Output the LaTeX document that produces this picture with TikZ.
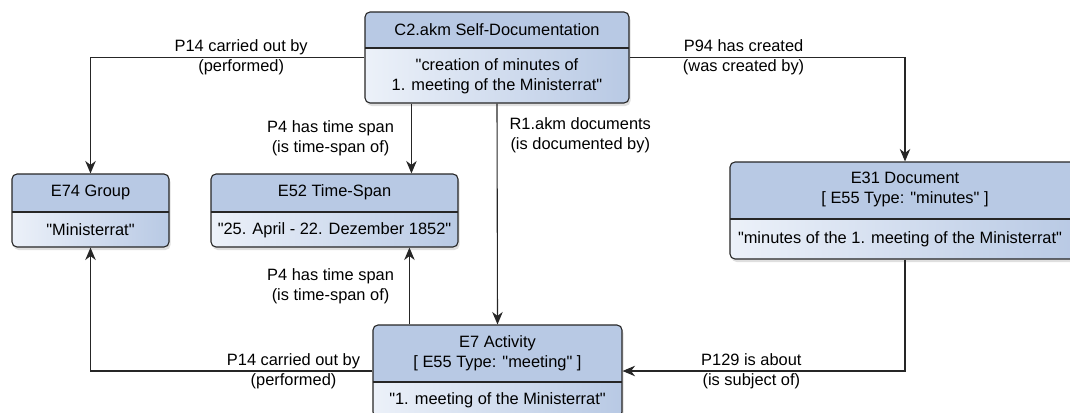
\documentclass[tikz,border=0pt]{standalone}
\usepackage{fontspec}
\setmainfont{Liberation Sans}[Ligatures=TeXOff]
\usepackage{tikz}
\usetikzlibrary{arrows.meta,positioning,calc,shadows}
\definecolor{headblue}{RGB}{184,201,228}
\definecolor{bodylight}{RGB}{236,241,249}
\definecolor{boxline}{RGB}{38,38,38}

\begin{document}
\begin{tikzpicture}[
    x=1pt, y=-1pt,
    font=\fontsize{16.4pt}{20pt}\selectfont,
    entity/.style={draw=boxline, line width=1.1pt, rounded corners=5pt, fill=white,
                inner sep=0pt,
                drop shadow={shadow xshift=1.5pt, shadow yshift=-3pt, opacity=0.25},
                path picture={
                  \fill[headblue, sharp corners] (path picture bounding box.north west)
                     rectangle ([yshift=-#1]path picture bounding box.north east);
                  \shade[left color=bodylight, right color=headblue, sharp corners]
                     ([yshift=-#1]path picture bounding box.north west)
                     rectangle (path picture bounding box.south east);
                  \draw[boxline, line width=1.1pt, sharp corners]
                     ([yshift=-#1]path picture bounding box.north west)
                     -- ([yshift=-#1]path picture bounding box.north east);
                }},
    txt/.style={align=center, inner sep=0pt, text=black},
    edgelabel/.style={align=center, inner sep=0pt, text=black},
    arrow/.style={-{Stealth[length=12.5pt, width=10.5pt, inset=4pt]}, line width=1.1pt, draw=boxline}
]
\useasboundingbox (0,0) rectangle (1070,412);

\node[entity=36pt, minimum width=264pt, minimum height=91pt] (c2) at (497,57.5) {};
\node[txt] (c2title) at ([yshift=-18pt]c2.north) {C2.akm Self-Documentation};
\node[txt] (c2value) at ([yshift=27.5pt]c2.south)
    {"creation of minutes of\\1. meeting of the Ministerrat"};

\node[entity=38pt, minimum width=157pt, minimum height=73pt] (e74) at (90.5,210.5) {};
\node[txt] (e74title) at ([yshift=-19pt]e74.north) {E74 Group};
\node[txt] (e74value) at ([yshift=17.5pt]e74.south) {"Ministerrat"};

\node[entity=38pt, minimum width=247pt, minimum height=73pt] (e52) at (334.5,210.5) {};
\node[txt] (e52title) at ([yshift=-19pt]e52.north) {E52 Time-Span};
\node[txt] (e52value) at ([yshift=17.5pt]e52.south) {"25. April - 22. Dezember 1852"};

\node[entity=57pt, minimum width=350pt, minimum height=97pt] (e31) at (905,210.5) {};
\node[txt] (e31title) at ([yshift=-28.5pt]e31.north)
    {E31 Document\\{[} E55 Type: "minutes" ]};
\node[txt] (e31value) at ([xshift=-5pt, yshift=20pt]e31.south)
    {"minutes of the 1. meeting of the Ministerrat"};

\node[entity=57pt, minimum width=249pt, minimum height=92pt] (e7) at (497.5,371) {};
\node[txt] (e7title) at ([yshift=-28.5pt]e7.north)
    {E7 Activity\\{[} E55 Type: "meeting" ]};
\node[txt] (e7value) at ([yshift=17.5pt]e7.south) {"1. meeting of the Ministerrat"};

\draw[arrow] (c2.west) -| (e74.north)
    node[edgelabel, pos=0.225] {P14 carried out by\\(performed)};
\draw[arrow] (c2.east) -| (e31.north)
    node[edgelabel, pos=0.207] {P94 has created\\(was created by)};
\draw[arrow] ([xshift=47pt]c2.south west) -- ([xshift=47pt]c2.south west |- e52.north)
    node[edgelabel, pos=0.5, left=17pt] {P4 has time span\\(is time-span of)};
\draw[arrow] (c2.south) -- (e7.north)
    node[edgelabel, pos=0.144, right=12pt] {R1.akm documents\\(is documented by)};
\draw[arrow] ([xshift=37pt]e7.north west) -- ([xshift=37pt]e7.north west |- e52.south)
    node[edgelabel, pos=0.5, left=15pt] {P4 has time span\\(is time-span of)};
\draw[arrow] (e7.west) -| (e74.south)
    node[edgelabel, pos=0.14] {P14 carried out by\\(performed)};
\draw[arrow] (e31.south) |- (e7.east)
    node[edgelabel, pos=0.772] {P129 is about\\(is subject of)};

\end{tikzpicture}
\end{document}
